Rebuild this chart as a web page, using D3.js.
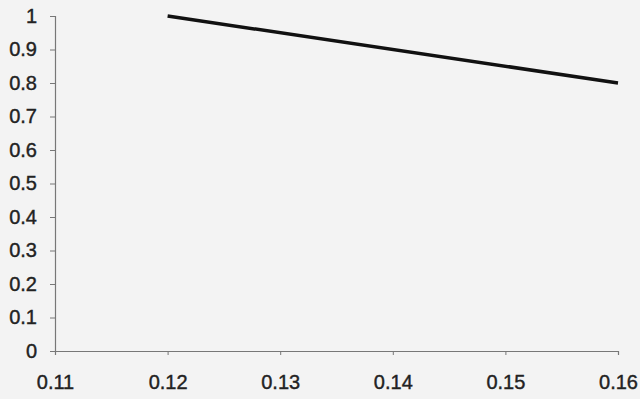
<!DOCTYPE html>
<html>
<head>
<meta charset="utf-8">
<script src="https://cdn.jsdelivr.net/npm/d3@7"></script>
<style>
  html, body { margin: 0; padding: 0; background: #f3f3f3; }
  svg { display: block; }
</style>
</head>
<body>
<div id="chart"></div>
<script>
// data
const xValues = [0.12, 0.16];
const yValues = [1, 0.8];
const xTicks = [0.11, 0.12, 0.13, 0.14, 0.15, 0.16];
const yTicks = [0, 0.1, 0.2, 0.3, 0.4, 0.5, 0.6, 0.7, 0.8, 0.9, 1];

const width = 640, height = 399;
const margin = { left: 55, right: 22, top: 16, bottom: 48 };

const svg = d3.select('#chart').append('svg')
    .attr('width', width)
    .attr('height', height);

svg.append('rect')
    .attr('width', width)
    .attr('height', height)
    .attr('fill', '#f3f3f3');

const x = d3.scaleLinear()
    .domain([0.11, 0.16])
    .range([margin.left, width - margin.right]);
const y = d3.scaleLinear()
    .domain([0, 1])
    .range([height - margin.bottom, margin.top]);

// x axis
const xAxis = svg.append('g')
    .attr('transform', `translate(0, ${y(0)})`)
    .call(d3.axisBottom(x).tickValues(xTicks).tickFormat(d3.format('.2f')).tickSizeOuter(0).tickSize(4).tickPadding(20));

// y axis
const yAxis = svg.append('g')
    .attr('transform', `translate(${x(0.11)}, 0)`)
    .call(d3.axisLeft(y).tickValues(yTicks).tickFormat(d => d === 0 || d === 1 ? d : d3.format('.1f')(d)).tickSizeOuter(0).tickSize(5).tickPadding(13));

[xAxis, yAxis].forEach(ax => {
    ax.select('.domain').attr('stroke', '#777').attr('stroke-width', 1.2);
    ax.selectAll('.tick line').attr('stroke', '#777');
    ax.selectAll('.tick text')
        .attr('fill', '#222')
        .attr('stroke', '#222')
        .attr('stroke-width', 0.4)
        .style('font-family', '"Liberation Sans", Arial, sans-serif')
        .style('font-size', '20px');
});

// the line
const pts = xValues.map((v, i) => [v, yValues[i]]);
svg.append('path')
    .datum(pts)
    .attr('fill', 'none')
    .attr('stroke', '#111')
    .attr('stroke-width', 3.5)
    .attr('d', d3.line().x(d => x(d[0])).y(d => y(d[1])));
</script>
</body>
</html>
